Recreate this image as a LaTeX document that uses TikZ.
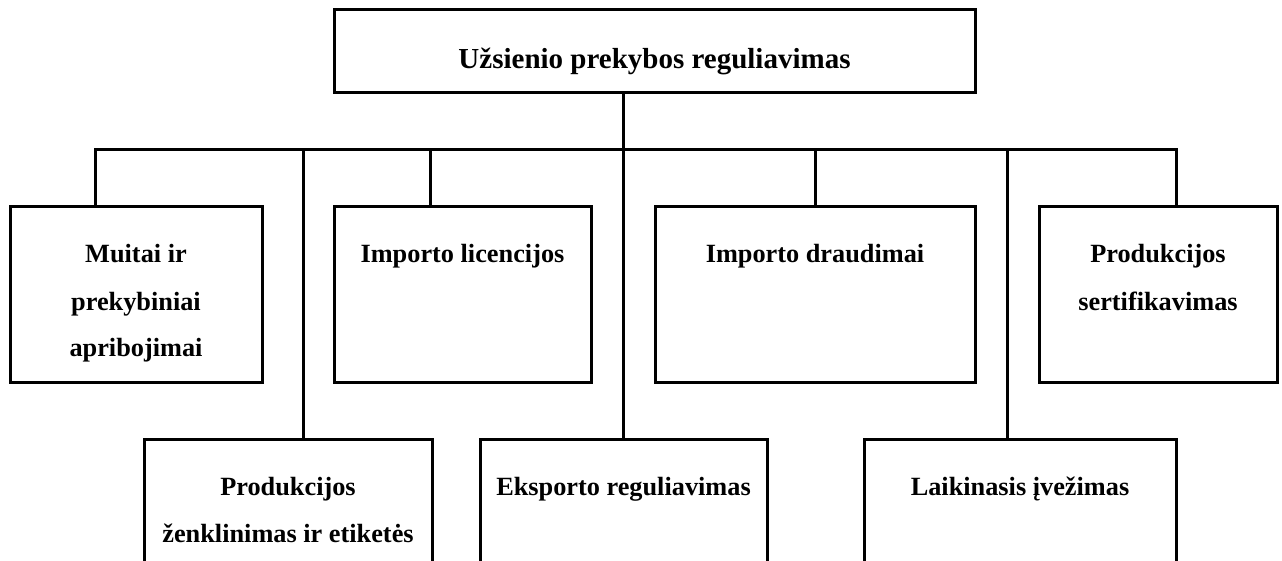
\documentclass[tikz,border=0pt]{standalone}
\usepackage{fontspec}
\setmainfont{Liberation Serif}
\begin{document}
\begin{tikzpicture}[x=1pt,y=-1pt,
  box/.style={draw=black,line width=3pt,rectangle,inner sep=0pt,fill=none},
  txt/.style={anchor=base,inner sep=0pt,font=\bfseries\fontsize{26.3}{30}\selectfont},
  ttl/.style={anchor=base,inner sep=0pt,font=\bfseries\fontsize{29}{34}\selectfont},
  conn/.style={draw=black,line width=3pt}]
\useasboundingbox (0,0) rectangle (1282,561);
\clip (0,0) rectangle (1282,561);
\fill[white] (0,0) rectangle (1282,561);
% boxes
\node[box,minimum width=641pt,minimum height=83pt] (root) at (654.5,51.5) {};
\node[box,minimum width=252pt,minimum height=175pt] (muitai) at (136,294.5) {};
\node[box,minimum width=257pt,minimum height=175pt] (licen) at (462.5,294.5) {};
\node[box,minimum width=320pt,minimum height=175pt] (draud) at (815,294.5) {};
\node[box,minimum width=238pt,minimum height=175pt] (sert) at (1158,294.5) {};
\node[box,minimum width=288pt,minimum height=161pt] (zenk) at (288,519.5) {};
\node[box,minimum width=287pt,minimum height=161pt] (eksp) at (623.5,519.5) {};
\node[box,minimum width=312pt,minimum height=161pt] (laik) at (1020,519.5) {};
% texts
\node[ttl] (rootT) at (654.5,69) {Užsienio prekybos reguliavimas};
\node[txt] (muitaiA) at (136,263) {Muitai ir};
\node[txt] (muitaiB) at (136,310) {prekybiniai};
\node[txt] (muitaiC) at (136,356) {apribojimai};
\node[txt] (licenT) at (462.5,263) {Importo licencijos};
\node[txt] (draudT) at (815,263) {Importo draudimai};
\node[txt] (sertA) at (1158,263) {Produkcijos};
\node[txt] (sertB) at (1158,310) {sertifikavimas};
\node[txt] (zenkA) at (288,495) {Produkcijos};
\node[txt] (zenkB) at (288,542) {ženklinimas ir etiketės};
\node[txt] (ekspT) at (623.5,495) {Eksporto reguliavimas};
\node[txt] (laikT) at (1020,495) {Laikinasis įvežimas};
% bus coordinates
\coordinate (j1) at (95,150);
\coordinate (j2) at (303,150);
\coordinate (j3) at (430,150);
\coordinate (j4) at (623,150);
\coordinate (j5) at (815,150);
\coordinate (j6) at (1007,150);
\coordinate (j7) at (1176,150);
% connectors
\draw[conn,line cap=rect] (j1) -- (j7);
\draw[conn] (root.south -| j4) -- (j4);
\draw[conn] (j1) -- (muitai.north -| j1);
\draw[conn] (j2) -- (zenk.north -| j2);
\draw[conn] (j3) -- (licen.north -| j3);
\draw[conn] (j4) -- (eksp.north -| j4);
\draw[conn] (j5) -- (draud.north -| j5);
\draw[conn] (j6) -- (laik.north -| j6);
\draw[conn] (j7) -- (sert.north -| j7);
\end{tikzpicture}
\end{document}
